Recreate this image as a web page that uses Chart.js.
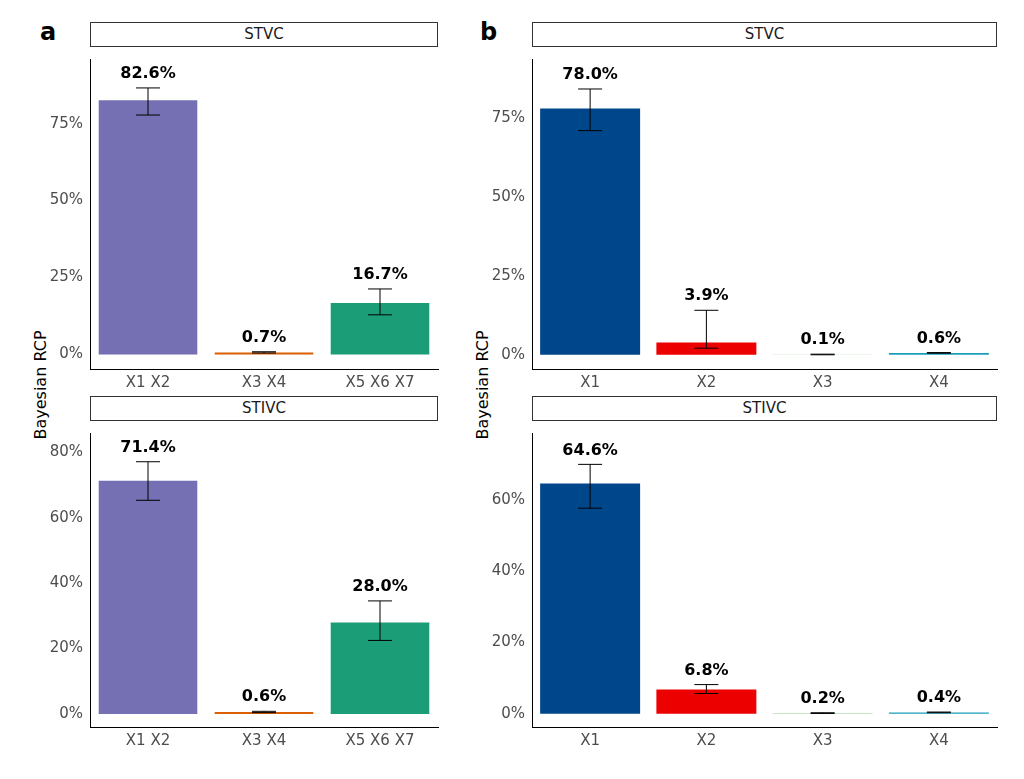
<!DOCTYPE html>
<html>
<head>
<meta charset="utf-8">
<script src="https://cdn.jsdelivr.net/npm/chart.js@4.4.1/dist/chart.umd.min.js"></script>
<style>
body { margin:0; background:#fff; font-family:"DejaVu Sans", sans-serif; }
#wrap { position:relative; width:1024px; height:779px; }
.strip { position:absolute; border:1px solid #333; background:#fff; text-align:center; font-size:15px; line-height:23px; color:#1a1a1a; box-sizing:border-box; height:25px; }
.box { position:absolute; }
.tag { position:absolute; font-weight:bold; font-size:24px; }
.ylab { position:absolute; transform:rotate(-90deg); transform-origin:center; font-size:16px; white-space:nowrap; }
</style>
</head>
<body>
<div id="wrap">
  <div class="tag" style="left:40px;top:18px">a</div>
  <div class="tag" style="left:480px;top:18px">b</div>
  <div class="ylab" style="left:-10px;top:380px;width:100px;text-align:center">Bayesian RCP</div>
  <div class="ylab" style="left:432px;top:380px;width:100px;text-align:center">Bayesian RCP</div>
  <div class="strip" style="left:90px;top:22px;width:348px">STVC</div>
  <div class="strip" style="left:90px;top:396px;width:348px">STIVC</div>
  <div class="strip" style="left:532px;top:22px;width:465px">STVC</div>
  <div class="strip" style="left:532px;top:396px;width:465px">STIVC</div>
  <div class="box" style="left:40px;top:47px;width:400px;height:344px"><canvas id="c1"></canvas></div>
  <div class="box" style="left:40px;top:421px;width:400px;height:328px"><canvas id="c2"></canvas></div>
  <div class="box" style="left:482px;top:47px;width:517px;height:344px"><canvas id="c3"></canvas></div>
  <div class="box" style="left:482px;top:421px;width:517px;height:328px"><canvas id="c4"></canvas></div>
</div>
<script>
const catsA = ["X1 X2", "X3 X4", "X5 X6 X7"]
const colorsA = ["#7570b3", "#d95f02", "#1b9e77"]
const stvcA = [82.6, 0.7, 16.7]
const stvcALow = [77.8, 0.5, 12.9]
const stvcAHigh = [86.6, 0.9, 21.3]
const stivcA = [71.4, 0.6, 28.0]
const stivcALow = [65.4, 0.4, 22.5]
const stivcAHigh = [77.2, 0.8, 34.6]

const catsB = ["X1", "X2", "X3", "X4"]
const colorsB = ["#00468b", "#ed0000", "#b4deb0", "#1b9eb8"]
const stvcB = [78.0, 3.9, 0.1, 0.6]
const stvcBLow = [71.0, 2.1, 0.0, 0.5]
const stvcBHigh = [84.2, 14.1, 0.2, 0.7]
const stivcB = [64.6, 6.8, 0.2, 0.4]
const stivcBLow = [57.7, 5.7, 0.1, 0.3]
const stivcBHigh = [70.0, 8.2, 0.3, 0.5]

const errPlugin = {
    id: 'err',
    afterDatasetsDraw(chart, args, opts) {
        const ctx = chart.ctx
        const y = chart.scales.y
        const meta = chart.getDatasetMeta(0)
        ctx.save()
        meta.data.forEach((bar, i) => {
            const x = bar.x
            const top = y.getPixelForValue(opts.high[i])
            const bot = y.getPixelForValue(opts.low[i])
            ctx.strokeStyle = '#000'
            ctx.lineWidth = 1
            ctx.beginPath()
            ctx.moveTo(x, top); ctx.lineTo(x, bot)
            ctx.moveTo(x - 12, top); ctx.lineTo(x + 12, top)
            ctx.moveTo(x - 12, bot); ctx.lineTo(x + 12, bot)
            ctx.stroke()
            ctx.fillStyle = '#000'
            ctx.font = 'bold 16px "DejaVu Sans"'
            ctx.textAlign = 'center'
            ctx.textBaseline = 'bottom'
            ctx.fillText(chart.data.datasets[0].data[i].toFixed(1) + '%', x, top - 6)
        })
        ctx.restore()
    }
}

function makeChart(id, cats, colors, vals, low, high, ymin, ymax, step, bp) {
    const ctx = document.getElementById(id).getContext('2d')
    return new Chart(ctx, {
        type: 'bar',
        data: {
            labels: cats,
            datasets: [{ data: vals, backgroundColor: colors, barPercentage: bp, categoryPercentage: 1 }]
        },
        plugins: [errPlugin],
        options: {
            responsive: true,
            maintainAspectRatio: false,
            animation: false,
            layout: { padding: { top: 0, right: 2, left: 0, bottom: 0 } },
            plugins: { legend: { display: false }, tooltip: { enabled: false }, err: { low: low, high: high } },
            scales: {
                x: {
                    grid: { display: false, drawTicks: true, tickLength: 4, tickColor: '#333' },
                    border: { color: '#000' },
                    ticks: { color: '#4d4d4d', font: { size: 15, family: 'DejaVu Sans' }, padding: 1 },
                    afterFit: s => { s.height = 22 }
                },
                y: {
                    min: ymin, max: ymax,
                    grid: { display: false, drawTicks: true, tickLength: 4, tickColor: '#333' },
                    border: { color: '#000' },
                    afterBuildTicks: s => {
                        const t = []
                        for (let v = 0; v <= ymax; v += step) t.push({ value: v })
                        s.ticks = t
                    },
                    ticks: { color: '#4d4d4d', font: { size: 15, family: 'DejaVu Sans' }, padding: 3, callback: v => v + '%' },
                    afterFit: s => { s.width = 50 }
                }
            }
        }
    })
}

makeChart('c1', catsA, colorsA, stvcA, stvcALow, stvcAHigh, -4.7, 96, 25, 0.85)
makeChart('c2', catsA, colorsA, stivcA, stivcALow, stivcAHigh, -4.0, 86, 20, 0.85)
makeChart('c3', catsB, colorsB, stvcB, stvcBLow, stvcBHigh, -4.5, 93.7, 25, 0.86)
makeChart('c4', catsB, colorsB, stivcB, stivcBLow, stivcBHigh, -3.7, 78.8, 20, 0.86)
</script>
</body>
</html>
